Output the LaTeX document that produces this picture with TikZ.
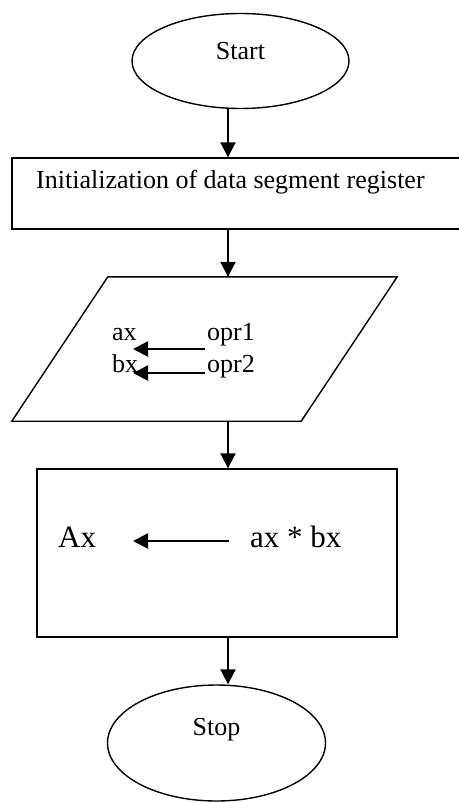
\documentclass[tikz,border=0pt]{standalone}
\usepackage{fontspec}
\setmainfont{Liberation Serif}
\usetikzlibrary{arrows.meta,shapes.geometric}
\begin{document}
\begin{tikzpicture}[x=1pt,y=-1pt,
  outline/.style={draw=black,line width=1.4pt},
  term/.style={outline,ellipse,inner sep=0pt},
  box/.style={outline,rectangle,inner sep=0pt},
  flow/.style={line width=2pt,-{Triangle[length=15pt,width=15pt]}},
  lbl/.style={inner sep=0pt,font=\fontsize{26}{30}\selectfont},
  biglbl/.style={inner sep=0pt,font=\fontsize{31}{36}\selectfont}]
\useasboundingbox (0,0) rectangle (458,802);

% vertical spine of the flow
\coordinate (spine) at (228,0);

% start terminal
\node[term,minimum width=217pt,minimum height=95pt] (start) at (240.5,61) {};
\node[lbl,anchor=base] (starttxt) at (240.5,60) {Start};

% initialisation step (runs off the right edge)
\node[box,minimum width=458pt,minimum height=71pt] (init) at (241,193.5) {};
\node[lbl,anchor=base west] (inittxt) at (36,189) {Initialization of data segment register};

% input parallelogram
\node[inner sep=0pt,minimum width=385pt,minimum height=144pt] (io) at (204.5,349) {};
\draw[outline,line join=miter]
  ([xshift=96pt]io.north west) -- (io.north east)
  -- ([xshift=-96pt]io.south east) -- (io.south west) -- cycle;
\node[lbl,anchor=base west] (ax) at (112,340) {ax};
\node[lbl,anchor=base west] (opr1) at (207,340) {opr1};
\node[lbl,anchor=base west] (bx) at (112,372) {bx};
\node[lbl,anchor=base west] (opr2) at (207,372) {opr2};
\draw[flow] ([xshift=-2pt,yshift=-9pt]opr1.base west) -- ([xshift=21pt,yshift=-9pt]ax.base west);
\draw[flow] ([xshift=-2pt,yshift=-1pt]opr2.base west) -- ([xshift=21pt,yshift=-1pt]bx.base west);

% multiplication step
\node[box,minimum width=360pt,minimum height=168pt] (mul) at (217,553) {};
\node[biglbl,anchor=base west] (res) at (58,547) {Ax};
\node[biglbl,anchor=base west] (prod) at (250,547) {ax * bx};
\draw[flow] ([xshift=-21pt,yshift=6pt]prod.base west) -- ([xshift=75pt,yshift=6pt]res.base west);

% stop terminal
\node[term,minimum width=218pt,minimum height=116pt] (stop) at (216.5,743) {};
\node[lbl,anchor=base] (stoptxt) at (216.5,735) {Stop};

% connectors along the spine
\draw[flow] (spine |- start.south) -- (spine |- init.north);
\draw[flow] (spine |- init.south) -- (spine |- io.north);
\draw[flow] (spine |- io.south) -- (spine |- mul.north);
\draw[flow] (spine |- mul.south) -- (spine |- stop.north);
\end{tikzpicture}
\end{document}
